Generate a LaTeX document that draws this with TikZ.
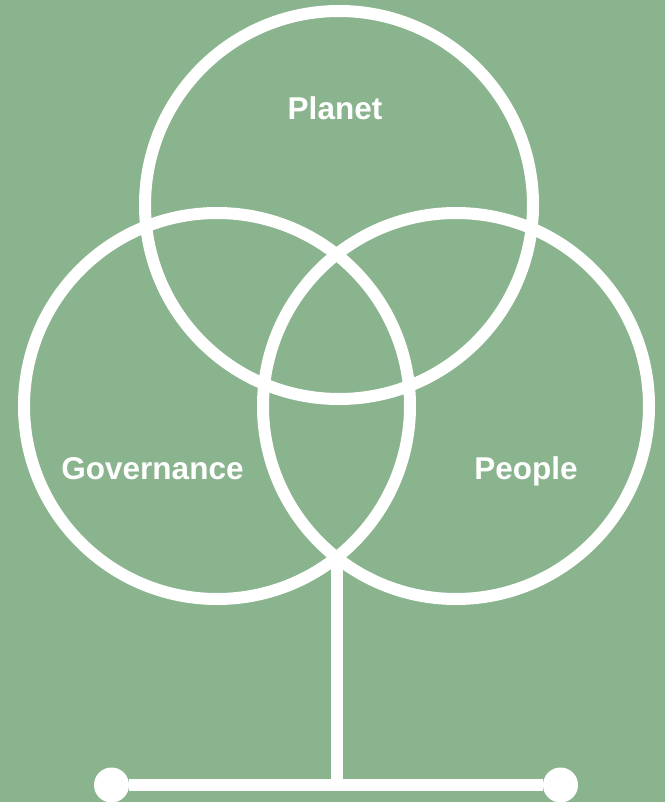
\documentclass[tikz,border=0pt]{standalone}
\usepackage{fontspec}
\setmainfont{Liberation Sans}
\usepackage{tikz}
\usepackage{xcolor}
\usetikzlibrary{calc}
\definecolor{sage}{HTML}{8AB48E}
\colorlet{ink}{white}

\begin{document}
\begin{tikzpicture}[x=1pt, y=-1pt]
            % background
            \fill[sage] (0,0) rectangle (665,802);
            \useasboundingbox (0,0) rectangle (665,802);
            % coordinates
            \coordinate (planet) at (339,205); % top circle centre
            \coordinate (gov) at (217,406); % left circle centre
            \coordinate (people) at (456,406); % right circle centre
            \coordinate (root) at (336.5,559); % lower meeting point of left and right circles
            \coordinate (base) at (336.5,785);
            % circles
            \draw[ink, line width=12pt] (planet) circle (194);
            \draw[ink, line width=12pt] (gov) circle (193);
            \draw[ink, line width=12pt] (people) circle (193);
            % circle labels
            \node[ink, anchor=base, font=\fontsize{31.5}{38}\selectfont\bfseries] (planetlabel) at (335,120) {Planet};
            \node[ink, anchor=base, font=\fontsize{31.5}{38}\selectfont\bfseries] (govlabel) at (152.5,479) {Governance};
            \node[ink, anchor=base, font=\fontsize{31.5}{38}\selectfont\bfseries] (peoplelabel) at (526,479) {People};

            % stem
            \draw[ink, line width=12pt] (root) -- (base);
            % end points of the ground line
            \node[ink, fill, circle, inner sep=0pt, minimum size=35pt] (leftend) at (111.5,785) {};
            \node[ink, fill, circle, inner sep=0pt, minimum size=35pt] (rightend) at (560.5,785) {};
            % ground line
            \draw[ink, line width=12pt] (leftend) -- (rightend);

        \end{tikzpicture}
\end{document}
